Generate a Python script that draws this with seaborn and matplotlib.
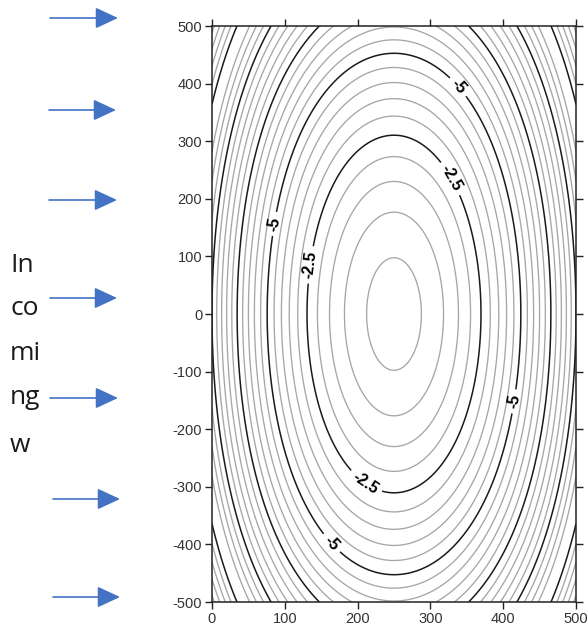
import numpy as np
import matplotlib
matplotlib.use("Agg")
import matplotlib.pyplot as plt
import seaborn as sns

# fitted shape of the field
center_x = 250.0
peak = -0.28
x_spread = 6430.0
y_spread = 43400.0
cross = 1.5e10

minor_levels = [-14.5, -14, -13.5, -13, -11.5, -11, -10.5,
                -9.5, -9, -8.5, -8, -7, -6.5, -6, -5.5,
                -4.5, -4, -3.5, -3, -2, -1.5, -1, -0.5]
major_levels = [-12.5, -10, -7.5]
labelled_levels = [-5, -2.5]
# where the labels sit on the -2.5 / -5 lines
label_spots = [(336, 392), (325, 233), (88, 156), (137, 85),
               (210, -294), (164, -398), (416, -152)]

x_ticks = [0, 100, 200, 300, 400, 500]
y_ticks = [500, 400, 300, 200, 100, 0, -100, -200, -300, -400, -500]

side_words = ["In", "co", "mi", "ng", "w"]
word_base_px = [272, 315, 360, 404, 452]
arrow_y_px = [18, 110, 200, 298, 398, 499, 597]
arrow_x0_px = [50, 49, 49, 50, 50, 53, 53]
arrow_x1_px = [118, 116, 117, 117, 118, 120, 120]

sns.set_theme(style="ticks")
plt.rcParams['font.family'] = ['Liberation Sans', 'DejaVu Sans']

W, H = 588, 628
fig = plt.figure(figsize=(W / 100, H / 100), dpi=100)
ax = fig.add_axes([212 / W, 26 / H, 364 / W, 576 / H])

xs = np.linspace(0, 500, 401)
ys = np.linspace(-500, 500, 801)
X, Y = np.meshgrid(xs, ys)
dx2 = (X - center_x) ** 2
Z = peak - dx2 / x_spread - Y ** 2 / y_spread + dx2 * Y ** 2 / cross

ax.contour(X, Y, Z, levels=sorted(minor_levels), colors='#a6a6a6',
           linewidths=0.95, linestyles='solid')
ax.contour(X, Y, Z, levels=major_levels, colors='#1a1a1a',
           linewidths=1.1, linestyles='solid')
cs = ax.contour(X, Y, Z, levels=labelled_levels, colors='#1a1a1a',
                linewidths=1.1, linestyles='solid')

# contour labels are bold in the original
plt.rcParams['font.weight'] = 'bold'
labels = ax.clabel(cs, fmt=lambda v: f"{v:g}", fontsize=11.5,
                   inline=True, inline_spacing=5, manual=label_spots)
plt.rcParams['font.weight'] = 'normal'
for t in labels:
    t.set_color('black')

ax.set_xlim(0, 500)
ax.set_ylim(-500, 500)
ax.set_xticks(x_ticks)
ax.set_xticklabels([str(v) for v in x_ticks])
ax.set_yticks(y_ticks)
ax.set_yticklabels([str(v) for v in y_ticks])
ax.tick_params(axis='both', direction='out', length=5, width=1, color='#222222',
               labelsize=10.5, labelcolor='#333333', pad=2,
               top=True, right=True)
for sp in ax.spines.values():
    sp.set_color('#222222')
    sp.set_linewidth(1.1)

for word, yb in zip(side_words, word_base_px):
    fig.text(10 / W, 1 - yb / H, word, fontsize=19, family=['Open Sans', 'DejaVu Sans'],
             weight='normal', color='#1a1a1a', ha='left', va='baseline')

for y, x0, x1 in zip(arrow_y_px, arrow_x0_px, arrow_x1_px):
    ax.annotate('', xy=(x1, H - y), xytext=(x0, H - y),
                xycoords='figure pixels', textcoords='figure pixels',
                arrowprops=dict(arrowstyle='-|>,head_length=1.4,head_width=0.65',
                                mutation_scale=10, color='#4472c4', lw=1.2,
                                shrinkA=0, shrinkB=0),
                annotation_clip=False)

fig.savefig('out.png', dpi=100)
